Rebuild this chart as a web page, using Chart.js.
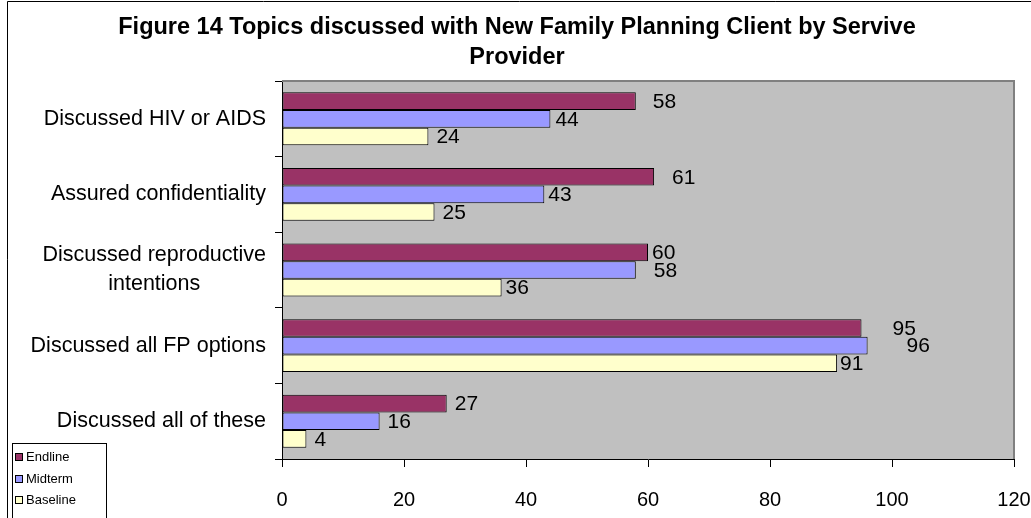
<!DOCTYPE html>
<html>
<head>
<meta charset="utf-8">
<script src="https://cdn.jsdelivr.net/npm/chart.js@4/dist/chart.umd.min.js"></script>
<style>
  html, body { margin: 0; padding: 0; background: #ffffff; }
  #wrap { width: 1031px; height: 518px; }
</style>
</head>
<body>
<div id="wrap"><canvas id="c" width="1031" height="518"></canvas></div>
<script>
// Survey topics (top to bottom) and the share of new FP clients, by round
const categories = [
  'Discussed HIV or AIDS',
  'Assured confidentiality',
  ['Discussed reproductive', 'intentions'],
  'Discussed all FP options',
  'Discussed all of these'
];
const endline  = [58, 61, 60, 95, 27];
const midterm  = [44, 43, 58, 96, 16];
const baseline = [24, 25, 36, 91, 4];
const seriesNames = ['Endline', 'Midterm', 'Baseline'];
const xTickValues = [0, 20, 40, 60, 80, 100, 120];
const titleLines = ['Figure 14 Topics discussed with New Family Planning Client by Servive', 'Provider'];

const FONT = "'Liberation Sans', Arial, sans-serif";
const colors = ['#993366', '#9999FF', '#FFFFCC'];

// Extra horizontal nudge (px) for value labels that sit further from their bar
const valueLabelNudge = [
  [9, 10, -4, 23, 0],
  [-3, -4, 10, 31, 0],
  [0, 0, -4, -5, 0]
];

// Grey plot background and the white page behind it
const plotBackground = {
  id: 'plotBackground',
  beforeDraw(chart) {
    const { ctx, chartArea: a } = chart;
    ctx.save();
    ctx.fillStyle = '#ffffff';
    ctx.fillRect(0, 0, chart.width, chart.height);
    ctx.fillStyle = '#C0C0C0';
    ctx.fillRect(a.left, a.top, a.right - a.left, a.bottom - a.top);
    ctx.restore();
  }
};

// Value printed just past the end of each bar
const barValues = {
  id: 'barValues',
  afterDatasetsDraw(chart) {
    const { ctx } = chart;
    ctx.save();
    ctx.font = '21px ' + FONT;
    ctx.fillStyle = '#000000';
    ctx.textAlign = 'left';
    ctx.textBaseline = 'middle';
    chart.data.datasets.forEach((ds, di) => {
      chart.getDatasetMeta(di).data.forEach((bar, i) => {
        ctx.fillText(String(ds.data[i]), bar.x + 8 + valueLabelNudge[di][i], bar.y + 1);
      });
    });
    ctx.restore();
  }
};

// Frame, category labels (multi-line labels centred within their block) and legend box
const decorations = {
  id: 'decorations',
  afterDraw(chart) {
    const { ctx, chartArea: a } = chart;
    ctx.save();

    // plot area frame: grey on the top and right
    ctx.strokeStyle = '#808080';
    ctx.lineWidth = 2;
    ctx.beginPath();
    ctx.moveTo(a.left, a.top);
    ctx.lineTo(a.right, a.top);
    ctx.lineTo(a.right, a.bottom);
    ctx.stroke();

    // outer chart frame (left and top edges)
    ctx.strokeStyle = '#000000';
    ctx.lineWidth = 1;
    ctx.beginPath();
    ctx.moveTo(7.5, chart.height);
    ctx.lineTo(7.5, 1.5);
    ctx.lineTo(chart.width, 1.5);
    ctx.stroke();

    // category labels
    const ys = chart.scales.y;
    ctx.font = '21.5px ' + FONT;
    ctx.fillStyle = '#000000';
    ctx.textAlign = 'center';
    ctx.textBaseline = 'middle';
    const rightEdge = a.left - 16;
    const lineH = 29;
    chart.data.labels.forEach((lab, i) => {
      const lines = Array.isArray(lab) ? lab : [lab];
      const w = Math.max(...lines.map(t => ctx.measureText(t).width));
      const cx = rightEdge - w / 2;
      const cy = ys.getPixelForValue(i);
      const y0 = cy - (lines.length - 1) * lineH / 2;
      lines.forEach((t, k) => ctx.fillText(t, cx, y0 + k * lineH));
    });

    // legend box in the lower-left corner
    ctx.fillStyle = '#ffffff';
    ctx.fillRect(12, 443, 95, 80);
    ctx.strokeStyle = '#000000';
    ctx.lineWidth = 1;
    ctx.strokeRect(12.5, 443.5, 94, 80);
    ctx.font = '13px ' + FONT;
    ctx.textAlign = 'left';
    ctx.textBaseline = 'middle';
    chart.data.datasets.forEach((ds, di) => {
      const y = Math.round(457 + di * 21.5);
      ctx.fillStyle = ds.backgroundColor;
      ctx.fillRect(15, y - 4, 8, 8);
      ctx.strokeStyle = '#000000';
      ctx.strokeRect(15.5, y - 3.5, 7, 7);
      ctx.fillStyle = '#000000';
      ctx.fillText(ds.label, 26, y);
    });

    ctx.restore();
  }
};

const seriesData = [endline, midterm, baseline];

new Chart(document.getElementById('c'), {
  type: 'bar',
  data: {
    labels: categories,
    datasets: seriesNames.map((name, i) => ({
      label: name,
      data: seriesData[i],
      backgroundColor: colors[i],
      borderColor: '#000000',
      borderWidth: 1,
      borderSkipped: false,
      categoryPercentage: 0.70,
      barPercentage: 1.0
    }))
  },
  options: {
    indexAxis: 'y',
    responsive: false,
    animation: false,
    devicePixelRatio: 1,
    layout: { padding: { left: 20, right: 17, top: 0, bottom: 0 } },
    plugins: {
      legend: { display: false },
      tooltip: { enabled: false },
      title: {
        display: true,
        text: titleLines,
        color: '#000000',
        font: { family: FONT, size: 23.5, weight: 'bold', lineHeight: 1.277 },
        padding: { top: 13, bottom: 8 }
      }
    },
    scales: {
      x: {
        min: 0,
        max: 120,
        afterBuildTicks(scale) { scale.ticks = xTickValues.map(v => ({ value: v })); },
        afterFit(scale) {
          scale.height = 59;
          scale.paddingLeft = 0;
          scale.paddingRight = 0;
        },
        grid: { drawOnChartArea: false, drawTicks: true, tickLength: 8, color: '#000000' },
        border: { display: true, color: '#000000', width: 1 },
        ticks: { color: '#000000', font: { family: FONT, size: 20 }, padding: 21, maxRotation: 0 }
      },
      y: {
        afterFit(scale) { scale.width = 262; },
        grid: { drawOnChartArea: false, drawTicks: true, tickLength: 7, color: '#000000', offset: true },
        border: { display: true, color: '#000000', width: 1 },
        ticks: { display: false }
      }
    }
  },
  plugins: [plotBackground, barValues, decorations]
});
</script>
</body>
</html>
